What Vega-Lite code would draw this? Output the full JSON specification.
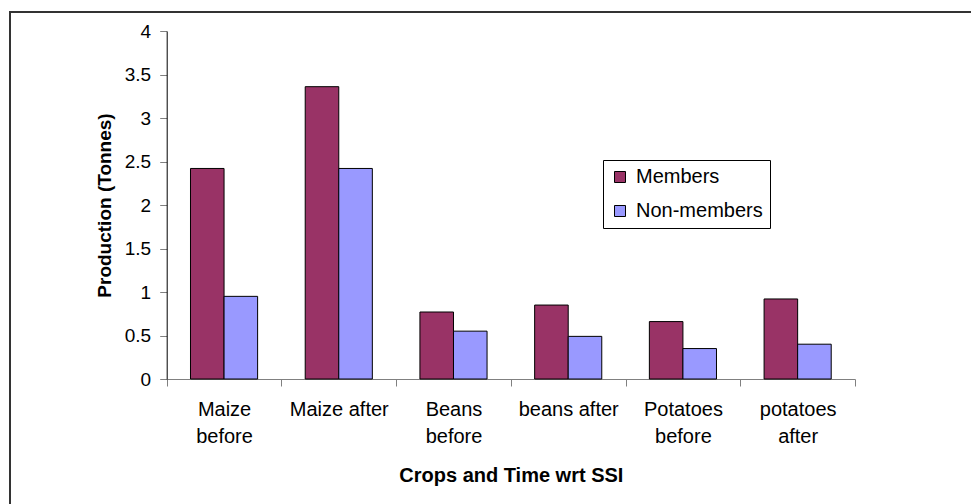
{
  "$schema": "https://vega.github.io/schema/vega-lite/v6.json",
  "autosize": "none",
  "padding": {"left": 10, "top": 12, "right": -3, "bottom": -3},
  "width": 964,
  "height": 495,
  "config": {
    "view": {"stroke": "#333333", "strokeWidth": 2},
    "font": "Liberation Sans"
  },
  "data": {
    "values": [
      {"crop": "Maize before", "group": "Members", "value": 2.42},
      {"crop": "Maize before", "group": "Non-members", "value": 0.95},
      {"crop": "Maize after", "group": "Members", "value": 3.36},
      {"crop": "Maize after", "group": "Non-members", "value": 2.42},
      {"crop": "Beans before", "group": "Members", "value": 0.77},
      {"crop": "Beans before", "group": "Non-members", "value": 0.55},
      {"crop": "beans after", "group": "Members", "value": 0.85},
      {"crop": "beans after", "group": "Non-members", "value": 0.49},
      {"crop": "Potatoes before", "group": "Members", "value": 0.66},
      {"crop": "Potatoes before", "group": "Non-members", "value": 0.35},
      {"crop": "potatoes after", "group": "Members", "value": 0.92},
      {"crop": "potatoes after", "group": "Non-members", "value": 0.40}
    ]
  },
  "mark": {"type": "bar", "stroke": "#000000", "strokeWidth": 1},
  "encoding": {
    "x": {
      "field": "crop",
      "type": "nominal",
      "sort": null,
      "scale": {"range": [156.7, 845], "paddingInner": 0, "paddingOuter": 0},
      "axis": {
        "offset": -128,
        "title": "Crops and Time wrt SSI",
        "titleFont": "Liberation Sans",
        "titleFontSize": 20,
        "titleFontWeight": "bold",
        "titleColor": "#000000",
        "titlePadding": 19,
        "labelAngle": 0,
        "labelFontSize": 20,
        "labelColor": "#000000",
        "labelPadding": 13,
        "labelLineHeight": 27,
        "labelExpr": "!datum.value ? '' : (indexof(['Maize after','beans after'], datum.value) >= 0 ? datum.value : split(datum.value, ' '))",
        "tickBand": "extent",
        "tickSize": 7,
        "tickColor": "#808080",
        "domainColor": "#808080",
        "domainWidth": 1,
        "grid": false
      }
    },
    "xOffset": {
      "field": "group",
      "sort": ["Members", "Non-members"],
      "scale": {"paddingOuter": 0.709, "paddingInner": 0}
    },
    "y": {
      "field": "value",
      "type": "quantitative",
      "scale": {"domain": [0, 4], "range": [367, 19], "nice": false, "zero": true},
      "axis": {
        "offset": -156.7,
        "values": [0, 0.5, 1, 1.5, 2, 2.5, 3, 3.5, 4],
        "format": "~g",
        "title": "Production (Tonnes)",
        "titleFont": "Liberation Sans",
        "titleFontSize": 19,
        "titleFontWeight": "bold",
        "titleColor": "#000000",
        "titlePadding": 10,
        "labelFontSize": 19,
        "labelColor": "#000000",
        "labelPadding": 9,
        "tickSize": 7,
        "tickColor": "#808080",
        "domainColor": "#000000",
        "domainWidth": 1,
        "grid": false
      }
    },
    "color": {
      "field": "group",
      "type": "nominal",
      "scale": {"domain": ["Members", "Non-members"], "range": ["#993366", "#9999FF"]},
      "legend": {
        "orient": "none",
        "legendX": 593,
        "legendY": 148,
        "title": null,
        "strokeColor": "#000000",
        "fillColor": "#ffffff",
        "padding": 7,
        "symbolType": "square",
        "symbolSize": 121,
        "symbolStrokeColor": "#000000",
        "symbolStrokeWidth": 1,
        "symbolOpacity": 1,
        "labelFontSize": 20,
        "labelColor": "#000000",
        "labelOffset": 6,
        "rowPadding": 14
      }
    }
  }
}
